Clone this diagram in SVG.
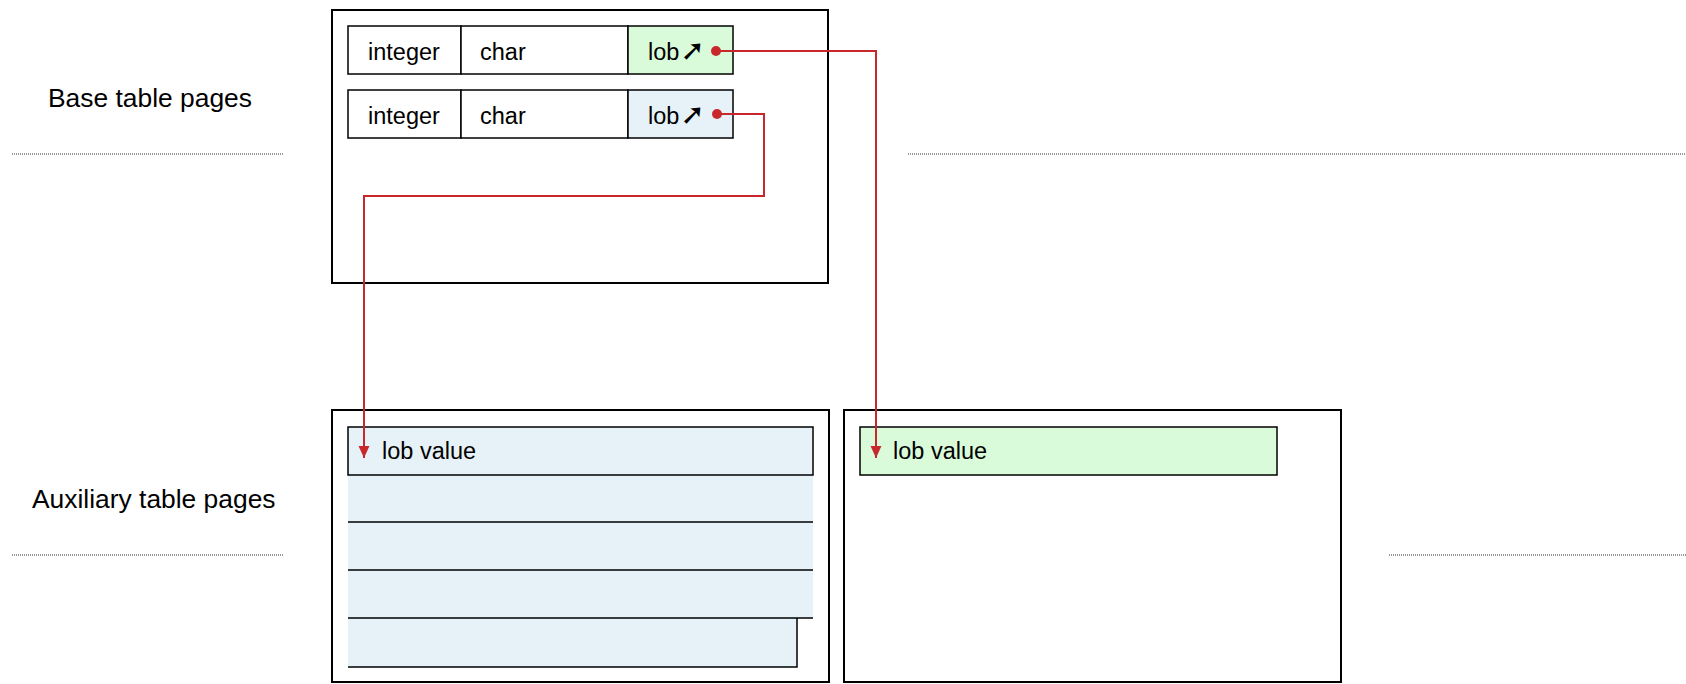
<svg xmlns="http://www.w3.org/2000/svg" width="1686" height="684" viewBox="0 0 1686 684">
<style>
  text { font-family: "Liberation Sans", Arial, sans-serif; fill: #000; }
  .lbl { font-size: 26.4px; }
  .cell { font-size: 23.5px; }
  .page { fill: #fff; stroke: #000; stroke-width: 2; }
  .c { stroke: #000; stroke-width: 1.5; }
  .white { fill: #fff; }
  .green { fill: #d9fbd9; }
  .blue { fill: #e6f2f8; }
  .ln { stroke: #000; stroke-width: 1.5; fill: none; }
  .dot { stroke: #333; stroke-width: 1; stroke-dasharray: 1 1; }
  .link { stroke: #c8282c; stroke-width: 2; fill: none; }
  .sym { font-family: "DejaVu Sans", sans-serif; font-size: 29px; font-weight: bold; }
</style>
<defs>
  <marker id="ah" markerUnits="userSpaceOnUse" markerWidth="12" markerHeight="12" viewBox="0 0 11 10" refX="11" refY="5" orient="auto">
    <polygon points="0,0 11,5 0,10" fill="#c8282c"/>
  </marker>
</defs>

<g id="separators">
  <line class="dot" x1="12" y1="154" x2="283" y2="154"/>
  <line class="dot" x1="908" y1="154" x2="1686" y2="154"/>
  <line class="dot" x1="12" y1="555" x2="283" y2="555"/>
  <line class="dot" x1="1389" y1="555" x2="1686" y2="555"/>
</g>

<g id="label-base"><text class="lbl" x="48" y="107">Base table pages</text></g>
<g id="label-aux"><text class="lbl" x="32" y="508">Auxiliary table pages</text></g>

<g id="base-page">
  <rect class="page" x="332" y="10" width="496" height="273"/>
  <g id="row1">
    <rect class="c white" x="348" y="26" width="113" height="48"/>
    <rect class="c white" x="461" y="26" width="167" height="48"/>
    <rect class="c green" x="628" y="26" width="105" height="48"/>
    <text class="cell" x="368" y="60">integer</text>
    <text class="cell" x="480" y="60">char</text>
    <text class="cell" x="648" y="60">lob<tspan class="sym" dx="1">➚</tspan></text>
  </g>
  <g id="row2">
    <rect class="c white" x="348" y="90" width="113" height="48"/>
    <rect class="c white" x="461" y="90" width="167" height="48"/>
    <rect class="c blue" x="628" y="90" width="105" height="48"/>
    <text class="cell" x="368" y="124">integer</text>
    <text class="cell" x="480" y="124">char</text>
    <text class="cell" x="648" y="124">lob<tspan class="sym" dx="1">➚</tspan></text>
  </g>
</g>

<g id="aux-page-1">
  <rect class="page" x="332" y="410" width="497" height="272"/>
  <rect class="blue" x="348" y="427" width="465" height="191"/>
  <rect class="blue" x="348" y="618" width="449" height="49"/>
  <rect class="c" fill="none" x="348" y="427" width="465" height="48"/>
  <line class="ln" x1="348" y1="522" x2="813" y2="522"/>
  <line class="ln" x1="348" y1="570" x2="813" y2="570"/>
  <line class="ln" x1="348" y1="618" x2="813" y2="618"/>
  <polyline class="ln" points="797,618 797,667 348,667"/>
  <text class="cell" x="382" y="459">lob value</text>
</g>

<g id="aux-page-2">
  <rect class="page" x="844" y="410" width="497" height="272"/>
  <rect class="c green" x="860" y="427" width="417" height="48"/>
  <text class="cell" x="893" y="459">lob value</text>
</g>

<g id="connectors">
  <polyline class="link" points="716,51 876,51 876,458" marker-end="url(#ah)"/>
  <polyline class="link" points="717,114 764,114 764,196 364,196 364,458" marker-end="url(#ah)"/>
  <circle cx="716" cy="51" r="5" fill="#c8282c"/>
  <circle cx="717" cy="114" r="5" fill="#c8282c"/>
</g>
</svg>
